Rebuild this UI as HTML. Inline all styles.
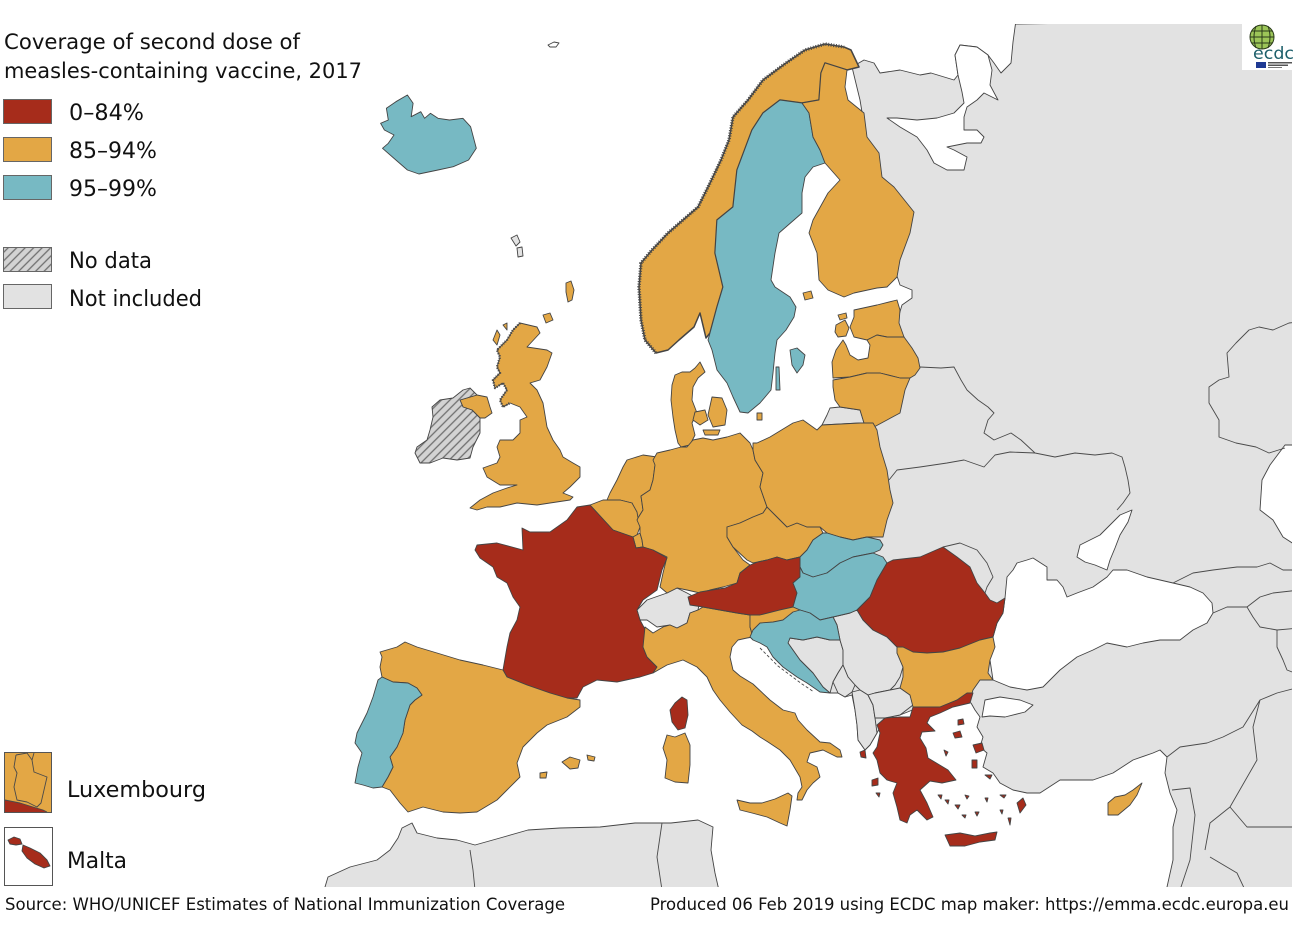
<!DOCTYPE html>
<html><head><meta charset="utf-8"><style>
html,body{margin:0;padding:0;background:#fff;}
svg{display:block;}
.r{fill:#A62C1B}.o{fill:#E3A745}.t{fill:#77B9C3}.g{fill:#E2E2E2}
.c{stroke:#444;stroke-width:0.9;stroke-linejoin:round}
.ln{fill:none;stroke:#4a4a4a;stroke-width:0.9;stroke-linejoin:round}
.jag{fill:none;stroke:#4a4a4a;stroke-width:3.5;stroke-dasharray:1 1.6;stroke-linejoin:round}
text{font-family:"DejaVu Sans","Liberation Sans",sans-serif;fill:#111}
</style></head><body>
<svg width="1296" height="932" viewBox="0 0 1296 932" xmlns="http://www.w3.org/2000/svg">
<defs>
<pattern id="h" patternUnits="userSpaceOnUse" width="6" height="6" patternTransform="rotate(45)">
<rect width="6" height="6" fill="#d3d3d3"/><line x1="1" y1="0" x2="1" y2="6" stroke="#6f6f6f" stroke-width="1.3"/></pattern>
<clipPath id="mc"><rect x="0" y="24" width="1292" height="863"/></clipPath>
</defs>
<rect width="1296" height="932" fill="#fff"/>
<g clip-path="url(#mc)">
<polygon class="g c" points="1016,24 1300,20 1300,895 1167,895 1167,887 1173,860 1173,827 1177,810 1170,793 1165,773 1167,757 1160,750 1153,753 1133,760 1113,773 1093,780 1060,780 1040,793 1027,793 1013,790 1000,783 993,773 983,767 987,753 980,747 983,737 977,727 980,717 975,710 971,703 960,700 945,703 930,707 915,709 900,715 885,718 877,733 870,745 865,750 858,740 857,725 855,710 852,695 845,697 838,693 830,693 823,687 800,660 788,643 795,625 805,600 820,560 850,530 870,440 880,400 895,360 897,330 899,315 902,305 912,298 912,290 900,285 895,270 905,230 870,160 860,100 852,67 864,60 874,63 880,73 900,70 920,75 931,73 954,80 958,75 955,55 960,45 977,47 988,55 994,63 1001,73 1011,63 1013,42 1016,20"/>
<polygon class="g c" points="320,895 325,887 328,877 350,867 377,860 390,850 398,838 402,828 412,823 417,833 437,838 457,840 475,845 500,838 528,830 560,828 600,827 635,823 671,823 698,820 713,827 711,850 715,873 720,895"/>
<polyline class="ln" points="470,850 473,870 475,890"/>
<polyline class="ln" points="662,823 657,857 662,890"/>
<polygon fill="#fff" class="c" points="960,45 977,47 988,55 992,70 990,85 998,100 984,93 977,100 967,107 964,117 964,130 977,130 984,137 981,143 967,143 947,147 954,150 967,157 964,170 947,170 934,163 927,150 917,137 900,127 887,118 897,118 917,120 937,118 954,113 964,103 962,92 958,75 955,55"/>
<polygon fill="#fff" class="c" points="1005,598 1007,577 1013,570 1017,563 1027,560 1033,558 1047,567 1047,580 1057,580 1063,587 1067,597 1077,593 1093,587 1107,577 1113,570 1127,570 1147,577 1173,583 1190,587 1203,593 1212,603 1213,613 1207,623 1193,630 1180,640 1160,640 1143,643 1127,647 1117,645 1107,643 1093,650 1077,657 1060,670 1043,687 1027,690 1010,687 993,680 990,660 993,637 997,623 1003,613"/>
<polygon fill="#fff" class="c" points="1132,510 1128,522 1120,535 1115,548 1110,560 1107,570 1095,565 1085,562 1077,557 1080,545 1090,540 1100,535 1110,525 1120,515"/>
<polygon fill="#fff" class="c" points="1285,445 1300,445 1300,548 1283,537 1273,520 1260,510 1262,480 1270,465"/>
<polygon fill="#fff" class="c" points="985,700 1000,697 1020,700 1033,705 1025,712 1005,717 990,716 982,717"/>
<polyline class="ln" points="920,367 941,368 954,367 961,380 967,390 978,400 988,407 994,413 988,420 984,433 994,440 1011,433 1021,440 1035,453 1055,457 1075,453 1095,455 1112,453 1122,457 1125,467 1128,480 1130,493 1123,503 1117,510"/>
<polyline class="ln" points="889,480 897,470 920,467 947,463 964,460 984,467 995,455 1010,452 1035,453"/>
<polyline class="ln" points="943,547 960,543 977,550 987,563 993,577 987,587 985,593"/>
<polyline class="ln" points="1300,322 1289,323 1273,330 1259,327 1249,330 1236,343 1227,353 1229,377 1219,380 1209,387 1209,403 1219,420 1219,437 1236,443 1256,447 1269,453 1285,448"/>
<polyline class="ln" points="1173,583 1193,573 1213,570 1237,567 1257,567 1270,563 1283,570 1300,570"/>
<polyline class="ln" points="1213,613 1227,607 1247,607 1260,597 1273,593 1300,590"/>
<polyline class="ln" points="1247,607 1253,617 1260,627 1277,630 1300,628"/>
<polyline class="ln" points="1277,630 1277,647 1283,660 1287,670 1300,675"/>
<polyline class="ln" points="1167,757 1180,747 1207,743 1223,737 1243,727 1260,700 1277,693 1300,687"/>
<polyline class="ln" points="1260,700 1253,727 1257,760 1230,807 1210,823 1205,850"/>
<polyline class="ln" points="1230,807 1247,827 1300,827"/>
<polyline class="ln" points="1210,857 1237,873 1245,890"/>
<polyline class="ln" points="1172,790 1190,788 1195,815 1190,860 1180,890"/>
<polyline class="ln" points="855,685 865,676 876,677 880,690"/>
</g>
<polygon class="g c" points="637,610 647,600 667,593 677,588 687,593 700,600 698,610 690,613 687,623 677,628 670,625 657,627 647,620 640,620"/>
<polygon class="g c" points="788,643 790,638 803,640 817,637 830,640 840,640 843,650 843,665 838,673 833,682 830,693 823,687 813,673 800,660"/>
<polygon class="g c" points="833,617 850,613 857,610 863,620 873,630 887,637 897,647 897,653 903,667 900,677 895,685 890,690 875,693 868,695 860,690 855,685 848,677 843,665 843,650 840,640 837,625"/>
<polygon class="g c" points="833,682 838,673 843,665 848,677 855,685 852,692 845,697 838,693"/>
<polygon class="g c" points="852,692 860,690 868,695 873,705 875,718 877,733 870,745 865,750 858,740 857,725 855,710"/>
<polygon class="g c" points="868,695 875,693 890,690 900,688 910,695 913,705 900,715 885,718 875,718 873,705"/>
<polygon class="g c" points="830,408 840,407 860,410 864,423 860,423 822,425 827,415"/>
<polygon class="g c" points="511,238 517,235 520,242 516,246"/><polygon class="g c" points="517,248 522,247 523,256 518,257"/>
<polygon fill="#fff" class="c" points="548,45 554,42 559,43 556,47 550,47"/>
<polygon class="t c" points="380.6,123.3 388.3,120 386.4,108.3 395.9,101.7 407.4,95 413.1,103.3 411.2,116.7 420.8,111.7 424.6,118.3 430.4,113.3 438,118.3 449.5,120 462.9,118.3 470.6,126.7 476.3,148.3 468.6,160 453.3,166.7 438,170 418.9,174 407.4,170 395.9,160 382.5,148.3 388.3,143.3 394,135 384.4,130"/>
<polygon class="o c" style="stroke-width:1.5" points="656,353 645,340 641,320 639,287 641,263 652,250 668,233 683,220 698,207 710,183 721,160 729,140 733,117 748,100 763,80 786,63 805,50 825,44 844,47 851,50 859,67 847,70 825,63 821,73 819,100 802,103 780,100 763,113 752,130 737,170 733,207 717,220 715,253 723,287 717,307 710,333 706,338 700,313 694,327 679,340 668,350"/>
<polyline class="jag" points="656,353 645,340 641,320 639,287 641,263 652,250 668,233 683,220 698,207 710,183 721,160 729,140 733,117 748,100 763,80 786,63 805,50 825,44 844,47"/>
<polygon class="t c" points="780,100 802,103 809,113 813,137 820,150 825,163 813,167 805,177 802,193 802,213 779,233 775,253 771,280 775,287 790,297 796,307 794,317 786,330 777,340 775,353 773,373 771,390 760,403 748,413 740,412 733,397 727,383 717,370 712,350 708,340 710,333 717,307 723,287 715,253 717,220 733,207 737,170 752,130 763,113"/>
<polygon class="o c" points="802,103 819,100 821,73 825,63 847,70 845,87 848,100 864,113 867,137 879,153 882,177 894,187 914,212 910,233 900,260 897,277 887,287 877,288 854,293 844,297 828,290 819,280 817,253 809,233 813,220 828,193 840,180 825,163 820,150 813,137 809,113"/>
<polygon class="t c" points="790,350 797,348 805,355 803,365 797,373 792,365"/>
<polygon class="t c" points="776,367 779,367 780,390 776,390"/>
<polygon class="o c" points="803,293 811,291 813,298 805,300"/>
<polygon class="o c" points="854,310 877,305 897,300 900,310 899,323 904,337 887,337 877,335 867,340 854,337 850,327 854,317"/>
<polygon class="o c" points="836,325 845,320 849,328 846,336 838,337 835,332"/>
<polygon class="o c" points="838,315 846,313 847,318 840,320"/>
<polygon class="o c" points="833,378 832,362 836,350 843,340 846,345 850,355 858,360 868,358 870,345 867,340 877,335 887,337 904,337 912,348 918,358 920,368 915,375 910,378 900,378 880,373 867,373 850,377"/>
<polygon class="o c" points="833,380 850,377 867,373 880,373 900,378 910,378 905,390 900,413 887,420 874,427 864,423 860,410 840,407 835,400 833,387"/>
<polygon class="o c" points="700,362 695,368 690,372 682,372 675,375 672,385 671,400 673,417 675,430 678,443 681,447 690,445 695,435 692,423 697,413 692,400 693,387 698,378 705,372"/>
<polygon class="o c" points="712,397 722,398 727,410 725,425 713,427 708,415"/>
<polygon class="o c" points="695,412 705,410 708,420 700,425 693,420"/>
<polygon class="o c" points="703,430 720,430 718,435 705,435"/>
<polygon class="o c" points="757,413 762,413 762,420 757,420"/>
<polygon class="o c" points="520,323 537,327 540,333 527,347 547,350 552,353 547,367 540,380 530,383 537,390 543,403 547,427 553,440 560,450 563,457 573,463 580,467 580,477 570,487 563,493 573,497 570,500 550,503 537,505 517,503 500,507 487,507 477,510 470,508 480,500 493,493 507,488 517,485 500,485 487,477 483,468 497,463 500,457 497,447 500,440 513,440 520,433 520,420 527,417 520,407 510,403 503,407 500,400 507,390 503,383 495,388 493,380 500,373 497,367 500,357 497,350 507,340 513,330"/>
<polyline class="jag" style="stroke-width:2.5" points="520,323 513,330 507,340 497,350 500,357 497,367 500,373 493,380 495,388 503,383 507,390 500,400 503,407 510,403"/>
<polygon class="o c" points="493,340 497,330 500,335 497,345"/><polygon class="o c" points="503,325 507,323 507,330"/>
<polygon class="o c" points="566,283 571,281 574,290 572,300 568,302 566,292"/>
<polygon class="o c" points="543,315 550,313 553,320 546,323"/>
<polygon class="o c" points="460,400 477,395 487,397 490,407 492,413 485,418 480,418 472,410 463,407"/>
<polygon fill="url(#h)" class="c" points="453,398 463,390 470,388 477,395 460,400 463,407 472,410 480,418 480,433 473,447 470,458 457,460 443,458 430,463 420,463 415,453 417,447 427,440 430,430 433,417 432,407 440,400"/>
<polygon class="o c" points="627,460 643,455 657,457 655,465 653,480 650,490 641,496 643,510 638,518 635,512 632,503 620,500 607,500 610,493 617,480 623,467"/>
<polygon class="o c" points="590,505 603,500 620,500 632,503 637,512 638,518 640,527 637,535 633,537 613,530"/>
<polygon class="o c" points="633,537 640,533 642,540 643,547 636,548"/>
<polygon class="o c" points="681,447 687,447 693,440 703,438 713,440 727,437 740,433 750,443 753,450 755,460 763,473 760,487 767,507 763,513 753,517 740,523 727,527 727,537 733,547 743,560 750,565 740,573 737,583 723,587 710,590 700,593 687,590 677,588 667,593 660,587 663,573 667,557 653,550 643,547 642,540 640,533 640,527 637,520 638,518 643,510 641,496 650,490 653,480 655,465 653,460 657,453 670,450"/>
<polygon class="r c" points="503,670 507,647 510,633 517,620 520,607 513,597 507,583 497,577 493,567 480,558 475,550 477,545 497,543 523,550 522,528 530,532 550,532 567,520 577,507 590,505 613,530 633,537 636,548 643,547 653,550 667,558 662,570 657,590 643,600 637,610 640,620 647,633 643,647 647,657 657,667 653,673 640,677 617,682 597,680 583,687 577,698 567,698 550,693 527,685 507,677"/>
<polygon class="r c" points="682,697 687,700 688,715 685,728 678,730 672,722 670,710 675,703"/>
<polygon class="o c" points="380,652 397,647 405,642 417,647 437,653 460,660 483,665 503,670 507,677 527,685 550,693 567,698 580,700 580,707 567,717 547,725 537,733 523,747 517,763 520,777 507,790 497,800 477,812 460,813 443,812 423,807 408,812 400,803 390,790 382,787 388,777 393,767 390,757 397,747 403,733 405,720 410,705 415,700 422,695 417,688 408,683 393,682 382,677 380,667 382,657"/>
<polygon class="t c" points="382,677 393,682 408,683 417,688 422,695 415,700 410,705 405,720 403,733 397,747 390,757 393,767 388,777 382,787 373,788 363,785 355,783 358,767 362,753 355,743 357,733 367,713 373,697 378,680"/>
<polygon class="o c" points="562,762 570,757 580,760 578,768 570,769"/>
<polygon class="o c" points="587,755 595,757 594,761 588,760"/>
<polygon class="o c" points="540,773 547,772 546,778 540,778"/>
<polygon class="o c" points="645,627 653,633 663,627 670,625 677,628 687,623 690,613 698,610 703,607 720,610 737,613 750,615 750,627 753,637 747,638 738,640 732,647 730,657 733,670 740,676 753,684 770,700 783,710 795,713 798,720 807,730 820,742 830,743 840,750 842,757 837,757 823,750 810,753 807,762 817,767 820,777 813,783 807,790 802,800 797,800 798,793 802,787 800,777 790,760 780,750 768,742 760,737 752,731 742,725 730,712 720,700 713,690 707,677 697,667 683,660 667,665 653,673 657,667 647,657 643,647"/>
<polygon class="o c" points="667,735 675,737 685,733 690,745 690,765 688,783 675,782 665,778 667,760 663,748"/>
<polygon class="o c" points="737,800 750,803 762,803 775,799 788,793 792,796 790,810 787,826 780,823 767,817 752,813 740,810"/>
<polygon class="o c" points="727,527 740,523 753,517 763,513 767,507 777,517 787,527 797,523 807,527 820,527 823,533 813,540 807,550 800,557 787,560 777,557 767,560 753,563 747,560 733,547 727,537"/>
<polygon class="o c" points="753,443 757,443 770,437 793,423 803,420 817,430 822,425 860,423 873,423 877,430 880,447 887,470 890,490 893,503 887,520 883,537 867,537 853,540 840,537 827,533 820,527 807,527 797,523 787,527 777,517 767,507 760,487 763,473 755,460 753,450"/>
<polygon class="t c" points="823,533 827,533 840,537 853,540 867,537 880,540 883,545 880,550 873,553 853,557 840,563 827,573 813,577 803,573 800,567 800,557 807,550 813,540"/>
<polygon class="r c" points="688,597 700,592 712,590 725,588 737,583 740,573 750,565 758,562 767,560 777,557 787,560 800,557 800,567 800,577 793,583 797,593 793,607 780,610 760,615 750,615 737,613 720,610 703,607 690,605"/>
<polygon class="t c" points="800,567 803,573 813,577 827,573 840,563 853,557 873,553 883,557 887,563 877,580 870,597 857,610 850,613 833,617 820,620 810,613 800,610 793,607 797,593 793,583 800,577"/>
<polygon class="o c" points="750,615 760,615 780,610 793,607 800,610 797,615 790,623 780,628 775,635 760,637 753,637 750,627"/>
<polygon class="t c" points="753,630 760,623 773,622 783,620 793,612 800,610 810,613 820,620 833,617 837,625 840,640 830,640 817,637 803,640 790,638 788,643 800,660 813,673 823,687 830,693 820,692 807,683 797,677 783,667 773,657 767,647 760,643 753,640 750,637"/>
<polyline class="ln" style="stroke-dasharray:3 2" points="760,648 768,656 778,666 790,675 802,684 814,692"/>
<polygon class="r c" points="887,563 893,560 920,557 943,547 957,557 970,567 977,583 985,593 990,600 997,603 1005,598 1003,613 997,623 993,637 980,640 960,648 943,652 927,653 913,652 903,647 897,647 887,637 873,630 863,620 857,610 870,597 877,580"/>
<polygon class="o c" points="897,647 903,647 913,652 927,653 943,652 960,648 980,640 993,637 995,647 990,660 988,673 993,680 980,680 973,690 970,700 957,700 940,707 927,707 913,707 910,695 900,688 903,677 903,667 897,653"/>
<polygon class="r c" points="913,707 927,707 940,707 957,700 967,693 973,693 970,703 953,707 940,713 930,717 927,723 935,731 922,732 920,738 926,748 928,758 938,764 948,770 956,780 942,783 930,781 920,790 927,803 933,817 927,820 917,810 910,815 907,823 900,820 897,807 893,793 897,783 887,780 880,773 877,760 873,753 877,747 880,733 877,725 885,718 900,717 910,717"/>
<polygon class="r c" points="945,835 960,833 975,836 990,833 997,832 995,840 980,842 965,846 950,846"/>
<g class="r c">
<polygon points="973,745 982,743 984,750 976,753"/><polygon points="972,760 977,760 977,768 972,768"/>
<polygon points="985,775 992,775 990,779"/><polygon points="1017,803 1023,798 1026,805 1020,813"/>
<polygon points="953,733 960,731 962,737 955,738"/><polygon points="958,720 963,719 964,724 958,725"/>
<polygon points="860,752 865,750 866,758 861,757"/><polygon points="872,780 878,778 878,785 872,786"/>
<polygon points="876,793 880,793 879,797"/><polygon points="945,800 949,800 948,804"/>
<polygon points="955,805 960,805 958,809"/><polygon points="965,795 969,796 967,799"/>
<polygon points="938,795 942,795 941,799"/><polygon points="962,815 966,815 965,818"/>
<polygon points="975,812 979,812 977,816"/><polygon points="985,798 988,798 987,802"/>
<polygon points="1000,810 1003,810 1002,814"/><polygon points="1008,818 1011,818 1010,825"/>
<polygon points="1000,795 1006,795 1004,798"/><polygon points="944,750 948,752 946,756"/>
</g>
<polygon class="o c" points="1108,803 1115,797 1125,795 1133,790 1142,783 1137,795 1130,805 1118,815 1108,815"/>
<text x="4" y="49" font-size="21" textLength="296" lengthAdjust="spacingAndGlyphs">Coverage of second dose of</text>
<text x="4" y="78" font-size="21" textLength="358" lengthAdjust="spacingAndGlyphs">measles-containing vaccine, 2017</text>
<rect x="3.5" y="99.5" width="48" height="24" class="r" stroke="#666" stroke-width="1"/>
<rect x="3.5" y="137.5" width="48" height="24" class="o" stroke="#666" stroke-width="1"/>
<rect x="3.5" y="175.5" width="48" height="24" class="t" stroke="#666" stroke-width="1"/>
<rect x="3.5" y="247.5" width="48" height="24" fill="url(#h)" stroke="#666" stroke-width="1"/>
<rect x="3.5" y="284.5" width="48" height="24" fill="#E2E2E2" stroke="#666" stroke-width="1"/>
<text x="69" y="120" font-size="22" textLength="75" lengthAdjust="spacingAndGlyphs">0–84%</text>
<text x="69" y="158" font-size="22" textLength="88" lengthAdjust="spacingAndGlyphs">85–94%</text>
<text x="69" y="196" font-size="22" textLength="88" lengthAdjust="spacingAndGlyphs">95–99%</text>
<text x="69" y="268" font-size="22" textLength="83" lengthAdjust="spacingAndGlyphs">No data</text>
<text x="69" y="306" font-size="22" textLength="133" lengthAdjust="spacingAndGlyphs">Not included</text>
<rect x="4.5" y="752.5" width="47" height="60" class="o" stroke="#555" stroke-width="1"/>
<polygon class="r" points="5,800 20,803 33,807 43,810 47,812 5,812"/>
<polyline class="ln" points="16,755 27,753 32,760 34,772 47,777 44,790 41,803 37,807 27,802 17,800 14,787 17,773 14,767 16,755"/>
<polyline class="ln" points="5,800 20,803 33,807 43,810 47,812"/>
<polyline class="ln" points="34,753 32,760"/>
<text x="67" y="797" font-size="22" textLength="139" lengthAdjust="spacingAndGlyphs">Luxembourg</text>
<rect x="4.5" y="827.5" width="48" height="58" fill="#fff" stroke="#555" stroke-width="1"/>
<polygon class="r c" points="8,840 14,837 20,839 22,844 16,845 10,844"/>
<polygon class="r c" points="23,845 30,848 40,853 47,860 50,866 44,868 35,864 27,858 22,851"/>
<text x="67" y="868" font-size="22" textLength="60" lengthAdjust="spacingAndGlyphs">Malta</text>
<text x="5" y="910" font-size="16.5" textLength="560" lengthAdjust="spacingAndGlyphs">Source: WHO/UNICEF Estimates of National Immunization Coverage</text>
<text x="650" y="910" font-size="16.5" textLength="639" lengthAdjust="spacingAndGlyphs">Produced 06 Feb 2019 using ECDC map maker: https://emma.ecdc.europa.eu</text>
<rect x="1242" y="24" width="54" height="46" fill="#fff"/>
<circle cx="1262" cy="37" r="12" fill="#9cc558" stroke="#2a3a1a" stroke-width="1"/>
<path d="M1250,37 H1274 M1252,31 H1272 M1252,43 H1272 M1262,25 V49 M1256,26 Q1252,37 1256,48 M1268,26 Q1272,37 1268,48" fill="none" stroke="#2a3a1a" stroke-width="1"/>
<text x="1253" y="59" font-size="17" style="fill:#1d5f6b" textLength="41" lengthAdjust="spacingAndGlyphs">ecdc</text>
<rect x="1256" y="62" width="10" height="6" fill="#1f3a93"/>
<rect x="1268" y="62" width="24" height="1.5" fill="#555"/><rect x="1268" y="64.5" width="20" height="1.5" fill="#555"/><rect x="1268" y="67" width="14" height="1" fill="#777"/>
</svg>
</body></html>
